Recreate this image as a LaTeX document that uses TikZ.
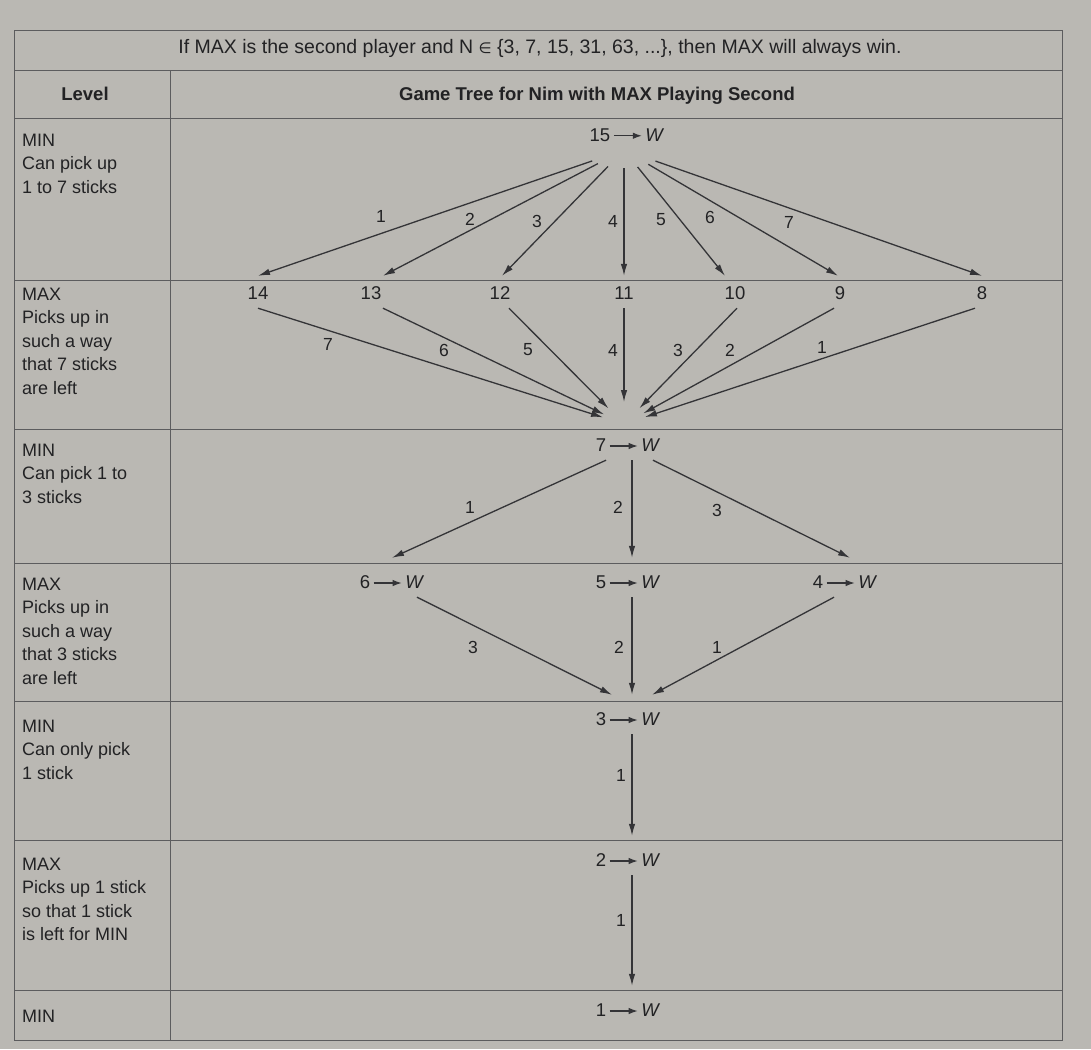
\documentclass[tikz,border=0pt]{standalone}
\usepackage{fontspec}
\setmainfont{Liberation Sans}
\newfontfamily\symfont{DejaVu Sans}
\usetikzlibrary{arrows.meta,calc,shapes.geometric}

\definecolor{paper}{RGB}{186,184,179}
\definecolor{ink}{RGB}{34,34,36}
\definecolor{rule}{RGB}{92,92,94}
\definecolor{edgec}{RGB}{52,52,55}

% short arrow used inside the "n -> W" labels
\newcommand{\wto}{\tikz[x=1pt,y=1pt,baseline=-5.5pt]\draw[edgec,line width=1.2pt,-{Latex[length=9pt,width=6.5pt]}] (0,0) -- (28,0);}

\begin{document}
\begin{tikzpicture}[x=1pt,y=-1pt,
  every node/.style={text=ink},
  lvl/.style={anchor=north west, align=left, inner sep=0pt, font=\fontsize{18}{23.5}\selectfont},
  head/.style={font=\fontsize{18.5}{22}\selectfont\bfseries, inner sep=0pt},
  num/.style={anchor=base, inner xsep=2pt, inner ysep=0pt, text height=23.5pt, text depth=8.5pt, font=\fontsize{18.5}{22}\selectfont},
  wnode/.style={num, text height=30.5pt},
  hub/.style={inner sep=0pt, outer sep=0pt},
  lab/.style={font=\fontsize{17.5}{20}\selectfont, inner sep=0pt},
  move/.style={draw=edgec, line width=1.3pt, -{Latex[length=12pt,width=6.5pt]}},
  grid/.style={draw=rule, line width=0.9pt}]

% page
\fill[paper] (0,0) rectangle (1091,1049);
\useasboundingbox (0,0) rectangle (1091,1049);

% table rules
\draw[grid] (14,30) rectangle (1062,1040);
\foreach \y in {70,118,280,429,563,701,840,990}
  \draw[grid] (14,\y) -- (1062,\y);
\draw[grid] (170,70) -- (170,1040);

% caption and column heads
\node[font=\fontsize{19.5}{22}\selectfont, inner sep=0pt] (title) at (540,48)
  {If MAX is the second player and N {\symfont\fontsize{15}{18}\selectfont ∈} \{3, 7, 15, 31, 63, ...\}, then MAX will always win.};
\node[head] (hlevel) at (85,94) {Level};
\node[head] (htree) at (597,96) {Game Tree for Nim with MAX Playing Second};

% level descriptions
\node[lvl] (lv1) at (22,133.5) {MIN\\Can pick up\\1 to 7 sticks};
\node[lvl] (lv2) at (22,287.5) {MAX\\Picks up in\\such a way\\that 7 sticks\\are left};
\node[lvl] (lv3) at (22,443.5) {MIN\\Can pick 1 to\\3 sticks};
\node[lvl] (lv4) at (22,577.5) {MAX\\Picks up in\\such a way\\that 3 sticks\\are left};
\node[lvl] (lv5) at (22,719.5) {MIN\\Can only pick\\1 stick};
\node[lvl] (lv6) at (22,857.5) {MAX\\Picks up 1 stick\\so that 1 stick\\is left for MIN};
\node[lvl] (lv7) at (22,1009.5) {MIN};

% tree positions
\node[font=\fontsize{18.5}{22}\selectfont] (n15) at (627,135) {15\hspace{3pt}\wto\hspace{3pt}\textit{W}};
\node[hub, ellipse, minimum width=80pt, minimum height=36pt] (h15) at (624,150) {};

\node[num] (n14) at (258,299.5) {14};
\node[num] (n13) at (371,299.5) {13};
\node[num] (n12) at (500,299.5) {12};
\node[num] (n11) at (624,299.5) {11};
\node[num] (n10) at (735,299.5) {10};
\node[num] (n9)  at (840,299.5) {9};
\node[num] (n8)  at (982,299.5) {8};

\node[hub, circle, minimum size=44pt] (h7) at (624,424) {};
\node[wnode] (n7) at (628,451.5) {7\hspace{3pt}\wto\hspace{3pt}\textit{W}};
\node[wnode] (n6) at (392,588.5) {6\hspace{3pt}\wto\hspace{3pt}\textit{W}};
\node[wnode] (n5) at (628,588.5) {5\hspace{3pt}\wto\hspace{3pt}\textit{W}};
\node[wnode] (n4) at (845,588.5) {4\hspace{3pt}\wto\hspace{3pt}\textit{W}};
\node[wnode] (n3) at (628,725.5) {3\hspace{3pt}\wto\hspace{3pt}\textit{W}};
\node[wnode] (n2) at (628,866.5) {2\hspace{3pt}\wto\hspace{3pt}\textit{W}};
\node[wnode] (n1) at (628,1016.5) {1\hspace{3pt}\wto\hspace{3pt}\textit{W}};

% MIN takes 1..7 from 15
\foreach \t/\dx in {n14/0, n13/12, n12/2, n11/0, n10/-10, n9/-2, n8/0}
  \draw[move] (h15) -- ($(\t.north)+(\dx,0)$);
% MAX answers so that 7 are left
\foreach \t/\dx in {n14/0, n13/12, n12/9, n11/0, n10/2, n9/-6, n8/-7}
  \draw[move] ($(\t.south)+(\dx,0)$) -- (h7);
% MIN takes 1..3 from 7
\draw[move] ($(n7.south)+(-22,0)$) -- (n6.north);
\draw[move] ($(n7.south)+(4,0)$) -- ($(n5.north)+(4,0)$);
\draw[move] ($(n7.south)+(25,0)$) -- ($(n4.north)+(5,0)$);
% MAX answers so that 3 are left
\draw[move] ($(n6.south)+(25,0)$) -- ($(n3.north)+(-16,0)$);
\draw[move] ($(n5.south)+(4,0)$) -- ($(n3.north)+(4,0)$);
\draw[move] ($(n4.south)+(-11,0)$) -- ($(n3.north)+(24,0)$);
% last moves
\draw[move] ($(n3.south)+(4,0)$) -- ($(n2.north)+(4,0)$);
\draw[move] ($(n2.south)+(4,0)$) -- ($(n1.north)+(4,0)$);

% sticks taken on each move
\node[lab] (a1) at (381,216) {1};
\node[lab] (a2) at (470,219) {2};
\node[lab] (a3) at (537,221) {3};
\node[lab] (a4) at (613,221) {4};
\node[lab] (a5) at (661,220) {5};
\node[lab] (a6) at (710,217) {6};
\node[lab] (a7) at (789,222) {7};

\node[lab] (b7) at (328,344) {7};
\node[lab] (b6) at (444,350) {6};
\node[lab] (b5) at (528,350) {5};
\node[lab] (b4) at (613,350) {4};
\node[lab] (b3) at (678,350) {3};
\node[lab] (b2) at (730,350) {2};
\node[lab] (b1) at (822,347) {1};

\node[lab] (c1) at (470,507) {1};
\node[lab] (c2) at (618,507) {2};
\node[lab] (c3) at (717,510) {3};

\node[lab] (d3) at (473,647) {3};
\node[lab] (d2) at (619,647) {2};
\node[lab] (d1) at (717,647) {1};

\node[lab] (e1) at (621,775) {1};
\node[lab] (f1) at (621,920) {1};
\end{tikzpicture}
\end{document}
